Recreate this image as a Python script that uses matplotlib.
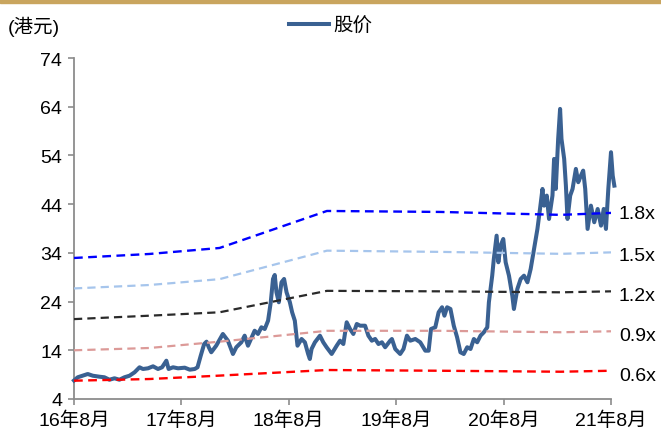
import matplotlib
matplotlib.use('Agg')
import matplotlib.pyplot as plt
from matplotlib.patches import Rectangle

plt.rcParams['font.family'] = ['Liberation Sans', 'Noto Sans CJK SC']

# ---- data ----
price_t = [2016.583, 2016.618, 2016.664, 2016.711, 2016.758, 2016.819, 2016.866, 2016.913,
           2016.960, 2017.006, 2017.053, 2017.100, 2017.147, 2017.193, 2017.225, 2017.272,
           2017.319, 2017.365, 2017.403, 2017.443, 2017.464, 2017.505, 2017.552, 2017.614,
           2017.661, 2017.707, 2017.733, 2017.763, 2017.795, 2017.817, 2017.838, 2017.861,
           2017.907, 2017.969, 2018.016, 2018.063, 2018.094, 2018.141, 2018.172, 2018.203,
           2018.265, 2018.296, 2018.328, 2018.359, 2018.390, 2018.415, 2018.436, 2018.452,
           2018.468, 2018.490, 2018.515, 2018.539, 2018.562, 2018.593, 2018.614, 2018.639,
           2018.664, 2018.702, 2018.733, 2018.763, 2018.779, 2018.795, 2018.826, 2018.873,
           2018.904, 2018.935, 2018.982, 2019.029, 2019.060, 2019.091, 2019.122, 2019.153,
           2019.184, 2019.216, 2019.247, 2019.293, 2019.324, 2019.356, 2019.387, 2019.418,
           2019.450, 2019.480, 2019.527, 2019.543, 2019.574, 2019.620, 2019.651, 2019.683,
           2019.714, 2019.761, 2019.807, 2019.854, 2019.885, 2019.907, 2019.947, 2019.978,
           2020.010, 2020.032, 2020.057, 2020.088, 2020.119, 2020.150, 2020.181, 2020.212,
           2020.244, 2020.275, 2020.306, 2020.337, 2020.368, 2020.399, 2020.431, 2020.446,
           2020.477, 2020.492, 2020.518, 2020.534, 2020.555, 2020.580, 2020.602, 2020.633,
           2020.664, 2020.679, 2020.711, 2020.742, 2020.773, 2020.805, 2020.835, 2020.866,
           2020.898, 2020.922, 2020.945, 2020.960, 2020.985, 2021.006, 2021.038, 2021.053,
           2021.069, 2021.091, 2021.109, 2021.122, 2021.147, 2021.163, 2021.178, 2021.203,
           2021.225, 2021.256, 2021.278, 2021.303, 2021.324, 2021.343, 2021.365, 2021.396,
           2021.427, 2021.459, 2021.490, 2021.515, 2021.536, 2021.558, 2021.583, 2021.599,
           2021.614]
price_v = [7.8, 8.46, 8.78, 9.13, 8.78, 8.58, 8.46, 7.96,
           8.25, 7.96, 8.46, 8.78, 9.48, 10.51, 10.16, 10.30,
           10.71, 10.16, 10.51, 11.86, 10.16, 10.51, 10.30, 10.43,
           10.02, 10.16, 10.51, 12.89, 15.29, 15.77, 14.62, 13.59,
           14.94, 17.35, 15.97, 13.24, 14.62, 15.64, 17.0, 14.94,
           18.02, 17.35, 18.72, 18.37, 20.08, 23.86, 28.64, 29.46,
           25.91, 23.86, 27.96, 28.64, 25.91, 23.86, 21.80, 20.08,
           14.94, 16.32, 15.64, 13.24, 12.21, 14.27, 15.64, 17.0,
           15.64, 14.62, 13.24, 14.94, 15.97, 15.29, 19.75, 18.37,
           17.35, 19.40, 19.05, 19.05, 17.0, 15.97, 16.32, 15.29,
           15.64, 14.62, 15.97, 16.32, 14.27, 13.24, 14.27, 17.0,
           15.97, 16.32, 15.64, 13.92, 13.92, 18.37, 18.72, 21.80,
           22.83, 21.10, 22.83, 22.48, 19.05, 16.67, 13.59, 13.24,
           14.62, 14.27, 16.32, 15.64, 17.0, 17.70, 18.72, 23.86,
           29.32, 32.75, 37.53, 32.07, 35.48, 36.85, 32.07, 29.32,
           25.21, 22.48, 26.59, 28.64, 29.32, 27.96, 30.69, 34.80,
           38.91, 43.01, 47.12, 43.69, 45.75, 40.96, 45.75, 53.28,
           47.12, 57.39, 63.55, 57.39, 53.28, 47.80, 40.96, 45.75,
           47.12, 51.23, 48.50, 49.85, 50.88, 47.12, 38.91, 43.69,
           40.28, 43.01, 39.59, 43.01, 38.91, 47.12, 54.66, 49.85,
           47.80]

band_t = [2016.583, 2017.284, 2017.938, 2018.938, 2019.994, 2021.116, 2021.583]
band_18 = [32.95, 33.77, 35.0, 42.6, 42.4, 41.8, 42.2]
band_15 = [26.7, 27.4, 28.6, 34.45, 34.2, 33.8, 34.1]
band_12 = [20.4, 21.1, 21.8, 26.2, 26.1, 25.9, 26.1]
band_09 = [14.0, 14.47, 15.77, 18.0, 18.0, 17.7, 17.9]
band_06 = [7.76, 8.1, 8.8, 9.95, 9.8, 9.6, 9.8]
band_names = ['1.8x', '1.5x', '1.2x', '0.9x', '0.6x']
band_label_y = [42.0, 33.4, 25.2, 17.0, 8.9]

xtick_vals = [2016.583, 2017.583, 2018.583, 2019.583, 2020.583, 2021.583]
xtick_labels = ['16年8月', '17年8月', '18年8月', '19年8月', '20年8月', '21年8月']
ytick_vals = [4, 14, 24, 34, 44, 54, 64, 74]

# ---- figure ----
W, H = 661, 439
fig = plt.figure(figsize=(W / 100, H / 100), dpi=100)
fig.patches.append(Rectangle((0, 1 - 4 / H), 1, 4 / H, transform=fig.transFigure,
                             color='#C9A55E', zorder=0))

ax = fig.add_axes([74 / W, 1 - 400 / H, (611 - 74) / W, (400 - 59) / H])

price_line, = ax.plot(price_t, price_v, color='#3A6192', lw=2.9, zorder=3,
                      solid_joinstyle='round', clip_on=False, label='股价')

bands = [band_18, band_15, band_12, band_09, band_06]
colors = ['#0000FF', '#A6C5EC', '#2A2A2A', '#DC9A98', '#FF0000']
widths = [1.7, 1.6, 1.6, 1.6, 1.7]
for vals, c, w in zip(bands, colors, widths):
    ax.plot(band_t, vals, color=c, lw=w, linestyle=(0, (3.7, 2.3)), zorder=4)

for name, yv in zip(band_names, band_label_y):
    ax.annotate(name, xy=(1, yv), xycoords=('axes fraction', 'data'),
                xytext=(8 / 100 * 72, 0), textcoords='offset points',
                fontsize=14, ha='left', va='center')

ax.set_xlim(xtick_vals[0], xtick_vals[-1])
ax.set_ylim(4, 74)
ax.set_xticks(xtick_vals)
ax.set_xticklabels(xtick_labels)
ax.set_yticks(ytick_vals)

for s in ['top', 'right']:
    ax.spines[s].set_visible(False)
for s in ['left', 'bottom']:
    ax.spines[s].set_color('#8C8C8C')
    ax.spines[s].set_linewidth(1.3)
ax.tick_params(axis='both', colors='#8C8C8C', length=4.5, width=1.2, labelsize=14,
               labelcolor='black')
ax.tick_params(axis='y', pad=4)
ax.tick_params(axis='x', pad=4)

fig.text(8 / W, 1 - 27 / H, '(港元)', fontsize=14, ha='left', va='center')

leg = fig.legend(handles=[price_line], loc='center', bbox_to_anchor=(0.5, 1 - 27 / H),
                 frameon=False, fontsize=14, handlelength=2.1, handletextpad=0.2,
                 borderpad=0)

fig.savefig('out.png', dpi=100)
